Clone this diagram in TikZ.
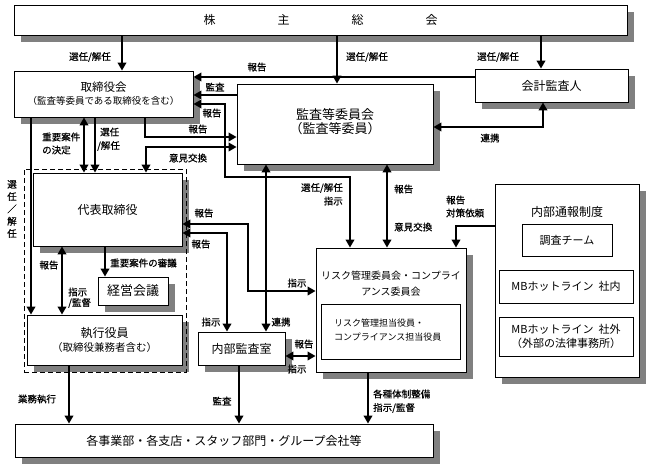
\documentclass[tikz,border=0pt]{standalone}
\usepackage{fontspec}
\newfontfamily\jp{Noto Sans CJK JP}
\newfontfamily\jpl[FakeBold=0.6]{Noto Sans CJK JP}
\usetikzlibrary{arrows.meta,shadows}
\definecolor{shd}{RGB}{128,128,128}
\begin{document}
\begin{tikzpicture}[x=1pt,y=-1pt,
  box/.style={draw,fill=white,line width=0.8pt,inner sep=0pt,align=center,
    font=\jp\fontsize{12}{14}\selectfont,
    drop shadow={shadow xshift=7pt,shadow yshift=-7pt,fill=shd,opacity=1}},
  ibox/.style={draw,fill=white,line width=0.8pt,inner sep=0pt,align=center,
    font=\jp\fontsize{11}{14}\selectfont},
  txt/.style={inner sep=0pt,align=center,font=\jp\fontsize{12}{14}\selectfont},
  lab/.style={inner sep=0pt,font=\jpl\fontsize{9.5}{13}\selectfont},
  grp/.style={draw,line width=0.8pt,dash pattern=on 5pt off 3pt,inner sep=0pt},
  arr/.style={line width=2.4pt,-{Triangle[length=8pt,width=8.5pt]}},
  darr/.style={line width=2.4pt,{Triangle[length=8pt,width=8.5pt]}-{Triangle[length=8pt,width=8.5pt]}}
]
\useasboundingbox (0,0) rectangle (651,471);

% boxes
\node[box,minimum width=613,minimum height=30] (sokai) at (320.5,20)
  {株\hspace{62pt}主\hspace{62pt}総\hspace{62pt}会};
\node[box,minimum width=179,minimum height=46,font=\jp\fontsize{11.5}{13}\selectfont] (tb) at (103.5,94)
  {取締役会\\{\fontsize{9.5}{11}\selectfont （監査等委員である取締役を含む）}};
\node[box,minimum width=196,minimum height=80] (kansa) at (335,124) {};
\node[txt,font=\jp\fontsize{13}{13.5}\selectfont] (kansaT) at (335,121.5) {監査等委員会\\（監査等委員）};
\node[box,minimum width=153,minimum height=33] (kaikei) at (551.5,85.5) {会計監査人};
\node[box,minimum width=149,minimum height=73] (daihyo) at (107.5,209.5) {代表取締役};
\node[box,minimum width=70,minimum height=28,font=\jp\fontsize{13}{14}\selectfont] (keiei) at (133,291) {経営会議};
\node[box,minimum width=155,minimum height=50] (shikko) at (104.5,340)
  {執行役員\\{\fontsize{10.5}{12}\selectfont （取締役兼務者含む）}};
\node[box,minimum width=87,minimum height=33] (naibu) at (241.5,348.5) {内部監査室};
\node[box,minimum width=150,minimum height=124] (risk) at (391,310) {};
\node[txt,font=\jp\fontsize{10}{16}\selectfont] (riskT) at (391,284) {リスク管理委員会・コンプライ\\アンス委員会};
\node[ibox,minimum width=139,minimum height=55] (riskin) at (390.5,331.5) {};
\node[txt,anchor=west,align=left,font=\jp\fontsize{9}{14}\selectfont] (riskinT) at (334,330)
  {リスク管理担当役員・\\コンプライアンス担当役員};
\node[box,minimum width=144,minimum height=193] (tsuho) at (567,280.5) {};
\node[txt] (tsuhoT) at (567,212) {内部通報制度};
\node[ibox,minimum width=90,minimum height=32] (chosa) at (567,240) {調査チーム};
\node[ibox,minimum width=134,minimum height=33] (mbin) at (566,286.5) {MBホットライン\hspace{5pt}社内};
\node[ibox,minimum width=134,minimum height=39] (mbout) at (566,336.5)
  {MBホットライン\hspace{5pt}社外\\（外部の法律事務所）};
\node[box,minimum width=418,minimum height=33] (jigyo) at (224,440.5)
  {各事業部・各支店・スタッフ部門・グループ会社等};
\node[grp,minimum width=162,minimum height=203] (group) at (105,270.5) {};

% connectors
\draw[arr] (sokai.south -| 122,0) -- (tb.north -| 122,0);
\draw[arr] (sokai.south -| 337,0) -- (kansa.north -| 337,0);
\draw[arr] (sokai.south -| 541,0) -- (kaikei.north -| 541,0);
\draw[arr] (kaikei.west |- 0,77) -- (tb.east |- 0,77);
\draw[arr] (kansa.west |- 0,95) -- (tb.east |- 0,95);
\draw[darr] (tb.east |- 0,104) -- (225,104) -- (225,177) -- (350,177) -- (risk.north -| 350,0);
\draw[arr] (tb.south -| 145,0) |- (kansa.west |- 0,137);
\draw[darr] (kansa.west |- 0,147) -| (daihyo.north -| 146,0);
\draw[darr] (kansa.south -| 266,0) -- (naibu.north -| 266,0);
\draw[darr] (kansa.south -| 387,0) -- (risk.north -| 387,0);
\draw[darr] (kaikei.south -| 543,0) |- (kansa.east |- 0,127);
\draw[arr] (tsuho.west |- 0,226) -| (risk.north -| 456,0);
\draw[arr] (tb.south -| 31,0) -- (shikko.north -| 31,0);
\draw[darr] (tb.south -| 84,0) -- (daihyo.north -| 84,0);
\draw[arr] (tb.south -| 95,0) -- (daihyo.north -| 95,0);
\draw[darr] (daihyo.south -| 62,0) -- (shikko.north -| 62,0);
\draw[arr] (daihyo.south -| 105,0) -- (keiei.north -| 105,0);
\draw[darr] (daihyo.east |- 0,224) -- (248,224) |- (risk.west |- 0,291);
\draw[darr] (daihyo.east |- 0,233) -| (naibu.north -| 227,0);
\draw[darr] (naibu.east |- 0,356) -- (risk.west |- 0,356);
\draw[arr] (shikko.south -| 69,0) -- (jigyo.north -| 69,0);
\draw[arr] (naibu.south -| 239,0) -- (jigyo.north -| 239,0);
\draw[arr] (risk.south -| 368,0) -- (jigyo.north -| 368,0);

% labels
\node[lab] (l1) at (90,57) {選任/解任};
\node[lab] (l2) at (367,57) {選任/解任};
\node[lab] (l3) at (498,57) {選任/解任};
\node[lab] (l4) at (257,67) {報告};
\node[lab] (l5) at (215,87) {監査};
\node[lab] (l6) at (212,113) {報告};
\node[lab] (l7) at (198,129) {報告};
\node[lab] (l8) at (188,158) {意見交換};
\node[lab,anchor=east] (l9a) at (343,188) {選任/解任};
\node[lab,anchor=east] (l9b) at (343,201) {指示};
\node[lab,anchor=west] (l10a) at (394,189) {報告};
\node[lab,anchor=west] (l10b) at (394,227) {意見交換};
\node[lab] (l11) at (490,138) {連携};
\node[lab,anchor=west] (l12a) at (446,200) {報告};
\node[lab,anchor=west] (l12b) at (446,213) {対策依頼};
\node[lab,align=center,font=\jpl\fontsize{9.5}{12.3}\selectfont] (l13) at (12,209) {選\\任\\／\\解\\任};
\node[lab,anchor=west] (l14a) at (42,137) {重要案件};
\node[lab,anchor=west] (l14b) at (42,150) {の決定};
\node[lab,anchor=west] (l15a) at (100,132) {選任};
\node[lab,anchor=west] (l15b) at (97,146) {/解任};
\node[lab] (l16a) at (49,265) {報告};
\node[lab,anchor=west] (l16b) at (68,292) {指示};
\node[lab,anchor=west] (l16c) at (68,303) {/監督};
\node[lab,anchor=west] (l17) at (110,263) {重要案件の審議};
\node[lab] (l18a) at (204,213) {報告};
\node[lab] (l18b) at (297,283) {指示};
\node[lab] (l19a) at (201,244) {報告};
\node[lab] (l19b) at (211,322) {指示};
\node[lab] (l20) at (281,322) {連携};
\node[lab] (l21a) at (304,344) {報告};
\node[lab] (l21b) at (297,369) {指示};
\node[lab] (l22) at (37,399) {業務執行};
\node[lab] (l23) at (222,401) {監査};
\node[lab,anchor=west] (l24a) at (373,394) {各種体制整備};
\node[lab,anchor=west] (l24b) at (373,408) {指示/監督};
\end{tikzpicture}
\end{document}
